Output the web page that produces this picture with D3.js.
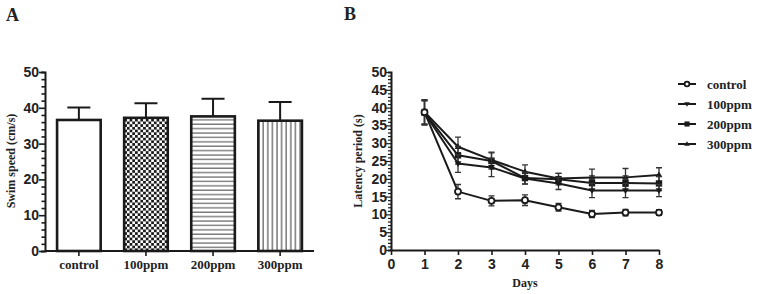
<!DOCTYPE html>
<html>
<head>
<meta charset="utf-8">
<script src="https://cdn.jsdelivr.net/npm/d3@7"></script>
<style>
  body { margin: 0; background: #fff; }
  svg { display: block; }
  .num text { font-family: "Liberation Sans", Arial, sans-serif; font-weight: bold; font-size: 14px; fill: #222; }
  .serif { font-family: "Liberation Serif", "Times New Roman", serif; font-weight: bold; fill: #222; }
</style>
</head>
<body>
<svg id="chart" width="761" height="294"></svg>
<script>
// panel A data
var groups = ["control", "100ppm", "200ppm", "300ppm"]
var speedMean = [36.6, 37.2, 37.6, 36.4]
var speedErr = [3.5, 4.1, 4.9, 5.2]

// panel B data
var days = [1, 2, 3, 4, 5, 6, 7, 8]
var latControl = [38.7, 16.4, 13.8, 14.0, 12.0, 10.1, 10.5, 10.5]
var latControlErr = [3.4, 2.0, 1.4, 1.5, 1.1, 1.0, 0.9, 0.8]
var lat100 = [38.5, 24.3, 23.2, 20.1, 18.7, 16.7, 16.7, 16.7]
var lat100Err = [3.4, 2.5, 2.6, 1.6, 1.7, 2.0, 2.0, 1.7]
var lat200 = [38.6, 26.6, 25.0, 20.2, 19.9, 18.8, 18.8, 18.7]
var lat200Err = [3.4, 2.5, 2.3, 1.6, 1.6, 2.0, 2.0, 2.0]
var lat300 = [38.8, 29.0, 25.3, 22.0, 20.1, 20.4, 20.4, 21.1]
var lat300Err = [3.4, 2.7, 2.2, 1.9, 1.4, 2.3, 2.5, 2.0]
var seriesNames = ["control", "100ppm", "200ppm", "300ppm"]

var svg = d3.select("#chart")
var ink = "#1a1a1a"

// patterns
var defs = svg.append("defs")
var chk = defs.append("pattern").attr("id", "chk").attr("patternUnits", "userSpaceOnUse")
    .attr("width", 5.4).attr("height", 5.4)
chk.append("rect").attr("width", 5.4).attr("height", 5.4).attr("fill", "#fff")
chk.append("rect").attr("width", 2.7).attr("height", 2.7).attr("fill", ink)
chk.append("rect").attr("x", 2.7).attr("y", 2.7).attr("width", 2.7).attr("height", 2.7).attr("fill", ink)
var hor = defs.append("pattern").attr("id", "hor").attr("patternUnits", "userSpaceOnUse")
    .attr("width", 6).attr("height", 4.4)
hor.append("rect").attr("width", 6).attr("height", 4.4).attr("fill", "#fff")
hor.append("line").attr("x1", 0).attr("x2", 6).attr("y1", 1).attr("y2", 1).attr("stroke", "#444").attr("stroke-width", 1)
var ver = defs.append("pattern").attr("id", "ver").attr("patternUnits", "userSpaceOnUse")
    .attr("width", 4.6).attr("height", 6)
ver.append("rect").attr("width", 4.6).attr("height", 6).attr("fill", "#fff")
ver.append("line").attr("y1", 0).attr("y2", 6).attr("x1", 1).attr("x2", 1).attr("stroke", "#333").attr("stroke-width", 1)
var fills = ["#fff", "url(#chk)", "url(#hor)", "url(#ver)"]

// ---------- panel A ----------
var xA = d3.scaleBand().domain(groups).range([45, 314]).paddingInner(0.35).paddingOuter(0.18)
var yA = d3.scaleLinear().domain([0, 50]).range([251, 72])

var gA = svg.append("g")
gA.append("g").attr("class", "num")
    .attr("transform", "translate(45,0)")
    .call(d3.axisLeft(yA).tickValues(d3.range(0, 51, 2)).tickSize(4).tickFormat(d => d % 10 === 0 ? d : ""))
    .call(g => g.selectAll(".tick line").attr("stroke", ink).attr("stroke-width", 1.6)
        .attr("x2", d => d % 10 === 0 ? -6 : -3.5))
    .call(g => g.selectAll(".tick text").attr("x", -6))
    .call(g => g.select(".domain").attr("stroke", ink).attr("stroke-width", 2))

gA.selectAll(".bar").data(groups).join("rect")
    .attr("x", d => xA(d)).attr("width", xA.bandwidth())
    .attr("y", (d, i) => yA(speedMean[i])).attr("height", (d, i) => yA(0) - yA(speedMean[i]))
    .attr("fill", (d, i) => fills[i]).attr("stroke", ink).attr("stroke-width", 2.6)

gA.selectAll(".err").data(groups).join("path")
    .attr("fill", "none").attr("stroke", ink).attr("stroke-width", 2)
    .attr("d", (d, i) => {
        var cx = xA(d) + xA.bandwidth() / 2
        var top = yA(speedMean[i] + speedErr[i])
        return `M${cx},${yA(speedMean[i])}V${top}M${cx - 11.5},${top}H${cx + 11.5}`
    })

gA.append("g")
    .attr("transform", "translate(0,251)")
    .call(d3.axisBottom(xA).tickSize(5).tickSizeOuter(0))
    .call(g => g.select(".domain").attr("stroke", ink).attr("stroke-width", 2).attr("d", "M45,0H314"))
    .call(g => g.selectAll(".tick line").attr("stroke", ink).attr("stroke-width", 1.6))
    .call(g => g.selectAll(".tick text").attr("class", "serif").attr("font-size", 13).attr("y", 9).attr("fill", ink))

svg.append("text").attr("class", "serif").attr("font-size", 12)
    .attr("transform", "translate(15,161) rotate(-90)").attr("text-anchor", "middle")
    .text("Swim speed (cm/s)")
svg.append("text").attr("class", "serif").attr("font-size", 18).attr("x", 6).attr("y", 21).text("A")

// ---------- panel B ----------
var xB = d3.scaleLinear().domain([0, 8]).range([391, 659])
var yB = d3.scaleLinear().domain([0, 50]).range([250, 72])

var gB = svg.append("g")
gB.append("g").attr("class", "num")
    .attr("transform", "translate(391,0)")
    .call(d3.axisLeft(yB).tickValues(d3.range(0, 51, 1)).tickSize(3).tickFormat(d => d % 5 === 0 ? d : ""))
    .call(g => g.selectAll(".tick line").attr("stroke", ink).attr("stroke-width", 1.2)
        .attr("x2", d => d % 5 === 0 ? -5 : -3))
    .call(g => g.selectAll(".tick text").attr("x", -4))
    .call(g => g.select(".domain").attr("stroke", ink).attr("stroke-width", 2))

gB.append("g").attr("class", "num")
    .attr("transform", "translate(0,250)")
    .call(d3.axisBottom(xB).ticks(8).tickSize(5).tickSizeOuter(0))
    .call(g => g.select(".domain").attr("stroke", ink).attr("stroke-width", 2))
    .call(g => g.selectAll(".tick line").attr("stroke", ink).attr("stroke-width", 1.6))
    .call(g => g.selectAll(".tick text").attr("y", 9))

svg.append("text").attr("class", "serif").attr("font-size", 12)
    .attr("x", 525).attr("y", 287).attr("text-anchor", "middle").text("Days")
svg.append("text").attr("class", "serif").attr("font-size", 12)
    .attr("transform", "translate(362,161) rotate(-90)").attr("text-anchor", "middle")
    .text("Latency period (s)")
svg.append("text").attr("class", "serif").attr("font-size", 18).attr("x", 344).attr("y", 20).text("B")

var series = [
    {name: "control", value: latControl, err: latControlErr, sym: "circle"},
    {name: "100ppm", value: lat100, err: lat100Err, sym: "down"},
    {name: "200ppm", value: lat200, err: lat200Err, sym: "square"},
    {name: "300ppm", value: lat300, err: lat300Err, sym: "up"}
]

function marker(g, sym, x, y, k) {
    k = k || 1
    if (sym === "circle") {
        g.append("circle").attr("cx", x).attr("cy", y).attr("r", 3 * k)
            .attr("fill", "#fff").attr("stroke", ink).attr("stroke-width", 1.8)
    } else if (sym === "square") {
        g.append("rect").attr("x", x - 3.2 * k).attr("y", y - 3.2 * k)
            .attr("width", 6.4 * k).attr("height", 6.4 * k).attr("fill", ink)
    } else {
        var s = sym === "up" ? -1 : 1
        g.append("path").attr("fill", ink)
            .attr("d", `M${x - 3.4 * k},${y - s * 2.3 * k}L${x + 3.4 * k},${y - s * 2.3 * k}L${x},${y + s * 3.4 * k}Z`)
    }
}

var line = d3.line().x((d, i) => xB(days[i])).y(d => yB(d))

series.slice().reverse().forEach(s => {
    var g = gB.append("g")
    // error bars
    s.value.forEach((v, i) => {
        var cx = xB(days[i])
        var t = yB(v + s.err[i]), b = yB(v - s.err[i])
        g.append("path").attr("fill", "none").attr("stroke", "#333").attr("stroke-width", 1.3)
            .attr("d", `M${cx},${t}V${b}M${cx - 3},${t}H${cx + 3}M${cx - 3},${b}H${cx + 3}`)
    })
    g.append("path").attr("fill", "none").attr("stroke", ink).attr("stroke-width", 2)
        .attr("stroke-linejoin", "round").attr("d", line(s.value))
    s.value.forEach((v, i) => marker(g, s.sym, xB(days[i]), yB(v)))
})

// legend
var legend = svg.append("g")
seriesNames.forEach((name, i) => {
    var s = series[i]
    var y = 84 + i * 20
    legend.append("line").attr("x1", 678).attr("x2", 696).attr("y1", y).attr("y2", y)
        .attr("stroke", ink).attr("stroke-width", 2)
    marker(legend, s.sym, 687, y, 0.8)
    legend.append("text").attr("class", "serif").attr("font-size", 13)
        .attr("x", 707).attr("y", y + 4.5).text(name)
})
</script>
</body>
</html>
